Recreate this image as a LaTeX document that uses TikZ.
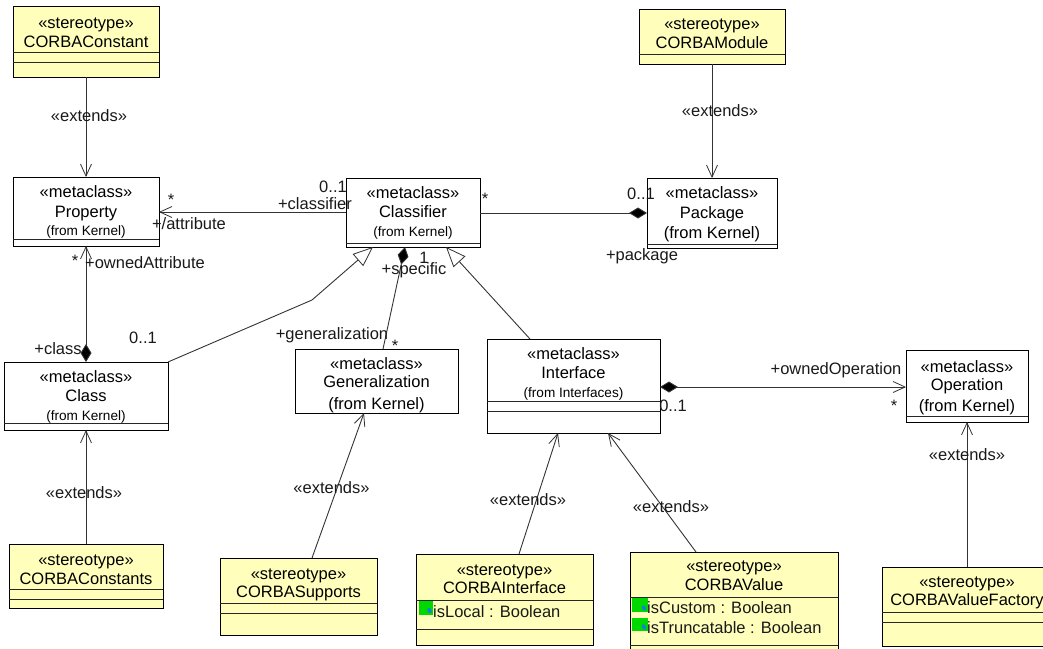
\documentclass[tikz,border=0pt]{standalone}
\usepackage{fontspec}
\setmainfont{Liberation Sans}
\usetikzlibrary{arrows.meta,shapes.geometric}
\definecolor{stereo}{RGB}{255,255,187}
\definecolor{iconblue}{RGB}{20,130,210}
\tikzset{
  umlbox/.style={draw=black,line width=1pt,inner sep=0pt,outer sep=0pt,anchor=north west,font=\fontsize{16.5}{19}\selectfont},
  plainbox/.style={umlbox,fill=white},
  stereobox/.style={umlbox,fill=stereo},
  lbl/.style={anchor=base,inner sep=0pt,font=\fontsize{16.5}{19}\selectfont,text=black!90},
  attr/.style={anchor=base west,inner sep=0pt,font=\fontsize{16.5}{19}\selectfont,text=black!90},
  comp/.style={draw=black!85,line width=1pt},
  conn/.style={draw=black!80,line width=.9pt},
  openarrow/.style={Straight Barb[length=12pt,width=11pt,line width=.8pt]},
  hollowtip/.tip={Triangle[open,fill=white,length=20pt,width=16pt,line width=.8pt]},
  barbtip/.tip={Straight Barb[length=12pt,width=11pt,line width=.8pt]},
  diatip/.tip={Diamond[length=18pt,width=11pt,fill=black]},
  icon/.style={fill=green!85!black,draw=none},
  icondot/.style={fill=iconblue,draw=none,ellipse,minimum width=4pt,minimum height=6pt,inner sep=0pt,rotate=30}
}
\newcommand{\fromk}[1]{{\fontsize{13.6}{13.6}\selectfont #1}}
% name, x1, y1, x2, y2, style, first baseline offset, baseline skip, text
\newcommand{\ubox}[9]{%
  \pgfmathsetmacro\bw{#4-#2}\pgfmathsetmacro\bh{#5-#3}%
  \node[#6] (#1) at (#2,#3) {\parbox[t][\bh pt][t]{\bw pt}{\lineskiplimit=-100pt\fontsize{16.5}{#8pt}\selectfont\centering\rule{0pt}{#7pt}#9\par}};}
\newcommand{\ucomp}[2]{\draw[comp] (#1.west |- 0,#2) -- (#1.east |- 0,#2);}
\newcommand{\lbl}[4]{\node[lbl] (#1) at ({#2},{#3+5.5}) {#4};}
\newcommand{\starl}[3]{\node[lbl] (#1) at ({#2},{#3+9}) {*};}
\begin{document}
\begin{tikzpicture}[x=1pt,y=-1pt]
\useasboundingbox (0,0) rectangle (1043,648);
% metaclass boxes
\ubox{property}{13}{177}{159}{246}{plainbox}{20}{20}{<<metaclass>>\\Property\\[-2pt]\fromk{(from Kernel)}}
\ubox{classifier}{346}{178}{480}{247}{plainbox}{20}{19.5}{<<metaclass>>\\Classifier\\[-1pt]\fromk{(from Kernel)}}
\ubox{package}{647}{178}{777}{248}{plainbox}{20}{20}{<<metaclass>>\\Package\\(from Kernel)}
\ubox{class}{4}{362}{168}{430}{plainbox}{20}{19.5}{<<metaclass>>\\Class\\[-1pt]\fromk{(from Kernel)}}
\ubox{generalization}{295}{349}{458}{413}{plainbox}{20}{18}{<<metaclass>>\\Generalization\\[4pt](from Kernel)}
\ubox{iface}{487}{339}{660}{433}{plainbox}{20}{19.5}{<<metaclass>>\\Interface\\[-1pt]\fromk{(from Interfaces)}}
\ubox{operation}{906}{350}{1028}{422}{plainbox}{22}{18}{<<metaclass>>\\Operation\\[3pt](from Kernel)}
% stereotype boxes
\ubox{constant}{13}{6}{159}{77}{stereobox}{22}{19}{<<stereotype>>\\CORBAConstant}
\ubox{module}{639}{9}{785}{64}{stereobox}{20}{19}{<<stereotype>>\\CORBAModule}
\ubox{constants}{9}{544}{163}{608}{stereobox}{21}{19}{<<stereotype>>\\CORBAConstants}
\ubox{supports}{220}{558}{377}{635}{stereobox}{21}{18}{<<stereotype>>\\CORBASupports}
\ubox{ciface}{416}{554}{593}{645}{stereobox}{21}{18}{<<stereotype>>\\CORBAInterface}
\ubox{cvalue}{630}{552}{838}{660}{stereobox}{19}{19}{<<stereotype>>\\CORBAValue}
\ubox{factory}{882}{567}{1052}{646}{stereobox}{20}{18}{<<stereotype>>\\CORBAValueFactory}
% compartments
\ucomp{property}{239}
\ucomp{classifier}{243}
\ucomp{package}{244}
\ucomp{class}{423}
\ucomp{iface}{401}\ucomp{iface}{411}
\ucomp{operation}{416}
\ucomp{constant}{52}\ucomp{constant}{62}
\ucomp{module}{54}
\ucomp{constants}{589}\ucomp{constants}{599}
\ucomp{supports}{603}\ucomp{supports}{613}
\ucomp{ciface}{600}\ucomp{ciface}{629}
\ucomp{cvalue}{597}\ucomp{cvalue}{645}
\ucomp{factory}{612}\ucomp{factory}{622}
% attributes
\fill[icon] (419,601) rectangle (433,615);
\node[icondot] (dotA) at (429.5,610.5) {};
\node[attr] (attrLocal) at (433,617.5) {isLocal : Boolean};
\fill[icon] (632,598) rectangle (648,612);
\node[icondot] (dotB) at (644,608) {};
\node[attr] (attrCustom) at (647,613.5) {isCustom : Boolean};
\fill[icon] (632,618) rectangle (648,631);
\node[icondot] (dotC) at (644,627) {};
\node[attr] (attrTrunc) at (647,633.5) {isTruncatable : Boolean};
% connectors
\draw[conn,-barbtip] (constant.south) -- (property.north);
\draw[conn,barbtip-diatip] (property.south) -- (class.north);
\draw[conn,-barbtip] (classifier.west |- 0,212) -- (property.east |- 0,212);
\draw[conn,-diatip] (classifier.east |- 0,213) -- (package.west |- 0,213);
\coordinate (bend) at (312,300);
\draw[conn,-hollowtip] (class.north east) -- (bend) -- ([xshift=27pt]classifier.south west);
\draw[conn,-diatip] ([xshift=88pt]generalization.north west) -- ([xshift=59pt]classifier.south west);
\draw[conn,-hollowtip] ([xshift=43pt]iface.north west) -- ([xshift=100pt]classifier.south west);
\draw[conn,diatip-barbtip] (iface.east |- 0,387) -- (operation.west |- 0,387);
\draw[conn,-barbtip] (module.south) -- (package.north);
\draw[conn,-barbtip] (constants.north) -- (class.south);
\draw[conn,-barbtip] ([xshift=92pt]supports.north west) -- ([xshift=69pt]generalization.south west);
\draw[conn,-barbtip] ([xshift=103pt]ciface.north west) -- ([xshift=71pt]iface.south west);
\draw[conn,-barbtip] ([xshift=66pt]cvalue.north west) -- ([xshift=121pt]iface.south west);
\draw[conn,-barbtip] (factory.north) -- (operation.south);
% labels
\lbl{extA}{89}{116}{<<extends>>}
\lbl{extB}{84}{493}{<<extends>>}
\lbl{extC}{331.5}{488}{<<extends>>}
\lbl{extD}{528}{500}{<<extends>>}
\lbl{extE}{671}{507}{<<extends>>}
\lbl{extF}{967}{455}{<<extends>>}
\lbl{extG}{720}{111}{<<extends>>}
\starl{starA}{171}{196}
\starl{starB}{75}{257}
\starl{starC}{395}{342}
\starl{starD}{485}{195}
\starl{starE}{894}{402}
\lbl{attrib}{189}{224}{+/attribute}
\lbl{clsf}{315}{204}{+classifier}
\lbl{multA}{333}{187}{0..1}
\lbl{ownA}{145}{263}{+ownedAttribute}
\lbl{classl}{58}{349}{+class}
\lbl{multB}{143}{338}{0..1}
\lbl{mult1}{424}{258}{1}
\lbl{spec}{414}{269}{+specific}
\lbl{genl}{332}{334}{+generalization}
\lbl{multC}{641}{194}{0..1}
\lbl{pack}{642}{255}{+package}
\lbl{ownO}{836}{369}{+ownedOperation}
\lbl{multD}{673}{406}{0..1}
\end{tikzpicture}
\end{document}
